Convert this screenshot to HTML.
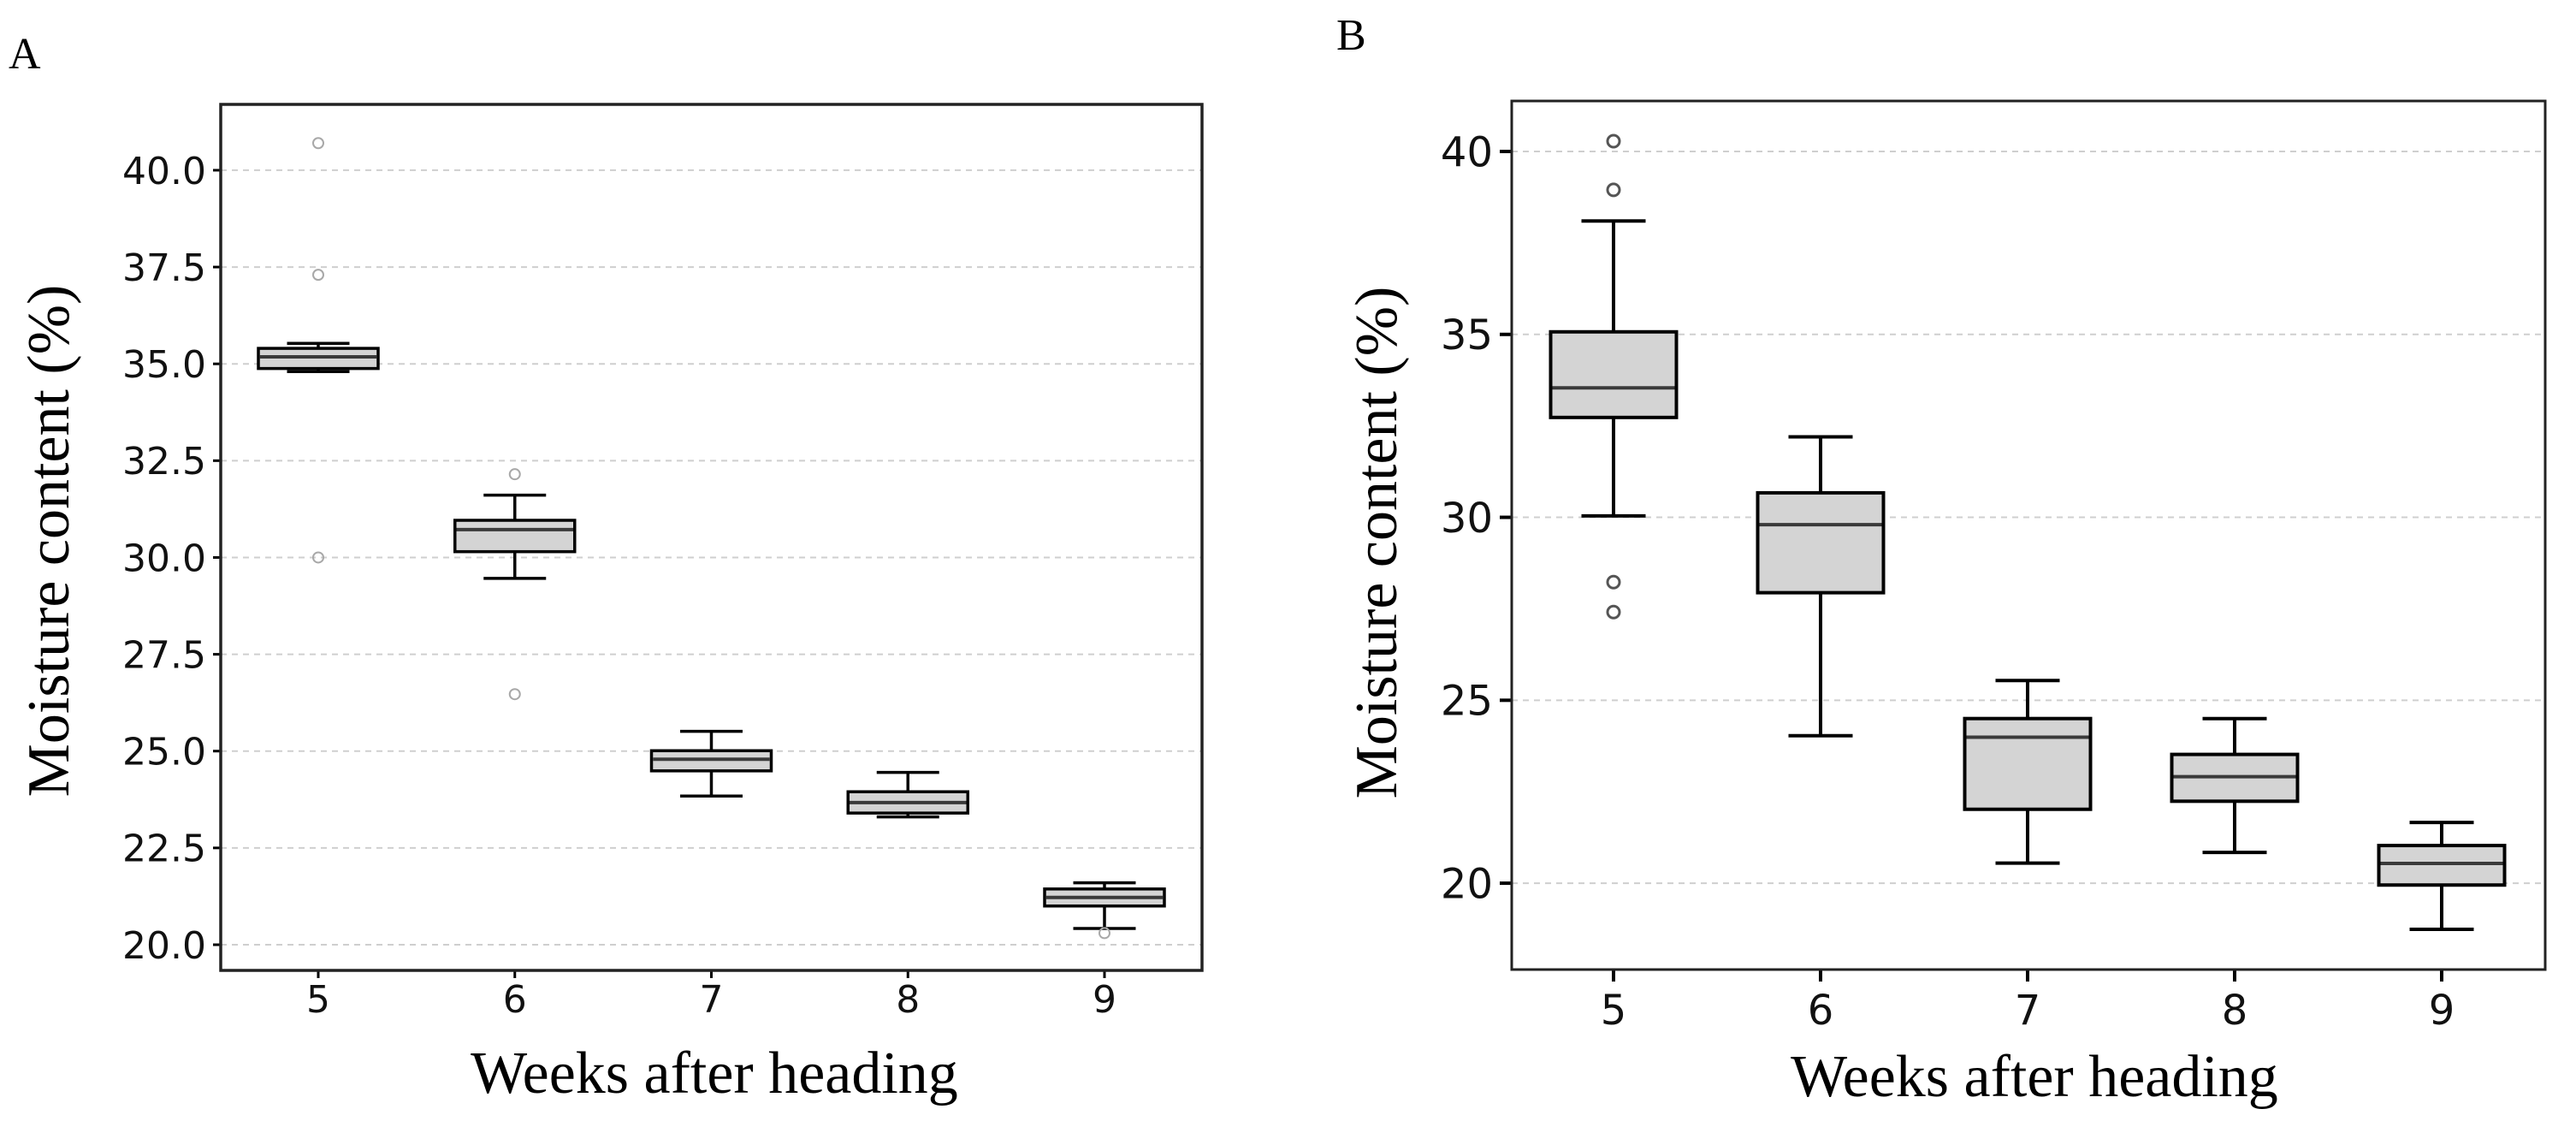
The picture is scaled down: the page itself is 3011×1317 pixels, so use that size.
<!DOCTYPE html>
<html><head><meta charset="utf-8">
<style>
html,body{margin:0;padding:0;background:#fff;}
svg{display:block;}
</style></head>
<body>
<svg id="chart" width="3011" height="1317" viewBox="0 0 3011 1317" xmlns="http://www.w3.org/2000/svg">
  <rect x="0" y="0" width="3011" height="1317" fill="#fff"/>
  <g id="panelA"></g>
  <g id="panelB"></g>
</svg>
<script>
// ---- shared categories ----
const categories = [5, 6, 7, 8, 9];

// ---- Panel A data ----
const aWhiskerLow  = [34.80, 29.46, 23.84, 23.30, 20.42];
const aQ1          = [34.88, 30.15, 24.49, 23.40, 21.00];
const aMedian      = [35.18, 30.72, 24.79, 23.67, 21.22];
const aQ3          = [35.40, 30.96, 25.01, 23.95, 21.44];
const aWhiskerHigh = [35.53, 31.61, 25.51, 24.45, 21.60];
const aOutliers    = [[40.7, 37.3, 30.0], [32.15, 26.47], [], [], [20.3]];
const aTicks       = [20.0, 22.5, 25.0, 27.5, 30.0, 32.5, 35.0, 37.5, 40.0];
const aTickLabels  = ["20.0", "22.5", "25.0", "27.5", "30.0", "32.5", "35.0", "37.5", "40.0"];

// ---- Panel B data ----
const bWhiskerLow  = [30.04, 24.03, 20.55, 20.84, 18.74];
const bQ1          = [32.73, 27.94, 22.02, 22.24, 19.95];
const bMedian      = [33.54, 29.80, 23.99, 22.91, 20.54];
const bQ3          = [35.07, 30.67, 24.50, 23.52, 21.03];
const bWhiskerHigh = [38.10, 32.20, 25.54, 24.50, 21.66];
const bOutliers    = [[40.28, 38.95, 28.23, 27.41], [], [], [], []];
const bTicks       = [20, 25, 30, 35, 40];
const bTickLabels  = ["20", "25", "30", "35", "40"];

const NS = "http://www.w3.org/2000/svg";
function mk(parent, tag, attrs) {
  const el = document.createElementNS(NS, tag);
  for (const k in attrs) el.setAttribute(k, attrs[k]);
  parent.appendChild(el);
  return el;
}

function drawPanel(g, cfg, d) {
  const yScale = v => cfg.top + (cfg.yMax - v) / (cfg.yMax - cfg.yMin) * (cfg.bottom - cfg.top);
  const xScale = i => cfg.x0 + i * cfg.dx;

  d.ticks.forEach((t, i) => {
    const y = yScale(t);
    const gl = mk(g, "line", {x1: cfg.left, x2: cfg.right, y1: y, y2: y, stroke: "#cfcfcf", "stroke-width": 2, "stroke-dasharray": "7,6"});
    
    
    const tk = mk(g, "line", {x1: cfg.left - cfg.tickLen, x2: cfg.left, y1: y, y2: y, stroke: "#000", "stroke-width": cfg.tickW});
    
    
    const tl = mk(g, "text", {x: cfg.left - cfg.tickLen - 8, y: y + cfg.tickFont * 0.36, "text-anchor": "end", "font-family": "DejaVu Sans, Liberation Sans, sans-serif", "font-size": cfg.tickFont, fill: "#111"});
    tl.textContent = d.tickLabels[i];
    
    
  });

  categories.forEach((c, i) => {
    const x = xScale(i);
    const hw = cfg.boxW / 2, cw = cfg.capW / 2;
    const grp = mk(g, "g", {});
    
    
    const sw = cfg.lineW;
    mk(grp, "line", {x1: x, x2: x, y1: yScale(d.wh[i]), y2: yScale(d.q3[i]), stroke: "#000", "stroke-width": sw});
    mk(grp, "line", {x1: x, x2: x, y1: yScale(d.q1[i]), y2: yScale(d.wl[i]), stroke: "#000", "stroke-width": sw});
    mk(grp, "line", {x1: x - cw, x2: x + cw, y1: yScale(d.wh[i]), y2: yScale(d.wh[i]), stroke: "#000", "stroke-width": sw});
    mk(grp, "line", {x1: x - cw, x2: x + cw, y1: yScale(d.wl[i]), y2: yScale(d.wl[i]), stroke: "#000", "stroke-width": sw});
    const yt = yScale(d.q3[i]), yb = yScale(d.q1[i]);
    mk(grp, "rect", {x: x - hw, y: yt, width: cfg.boxW, height: Math.max(yb - yt, 1), fill: "#d4d4d4", stroke: "#000", "stroke-width": sw});
    mk(grp, "line", {x1: x - hw + sw / 2, x2: x + hw - sw / 2, y1: yScale(d.med[i]), y2: yScale(d.med[i]), stroke: "#3a3a3a", "stroke-width": cfg.medW});
    d.out[i].forEach(v => {
      const o = mk(g, "circle", {cx: x, cy: yScale(v), r: cfg.outR, fill: "none", stroke: cfg.outColor, "stroke-width": cfg.outW});
      
      
    });
    const xt = mk(g, "line", {x1: x, x2: x, y1: cfg.bottom, y2: cfg.bottom + cfg.tickLen, stroke: "#000", "stroke-width": cfg.tickW});
    
    
    const xl = mk(g, "text", {x: x, y: cfg.xLabelY, "text-anchor": "middle", "font-family": "DejaVu Sans, Liberation Sans, sans-serif", "font-size": cfg.tickFont, fill: "#111"});
    xl.textContent = String(c);
    
    
  });

  const fr = mk(g, "rect", {x: cfg.left, y: cfg.top, width: cfg.right - cfg.left, height: cfg.bottom - cfg.top, fill: "none", stroke: "#222", "stroke-width": cfg.frameW});
  
  

  const xt = mk(g, "text", {x: cfg.xTitleX, y: cfg.xTitleY, "text-anchor": "middle", "font-family": "Liberation Serif, serif", "font-size": 70, fill: "#000"});
  xt.textContent = "Weeks after heading";
  
  
  const yt = mk(g, "text", {x: 0, y: 0, "text-anchor": "middle", "font-family": "Liberation Serif, serif", "font-size": 70, fill: "#000", transform: "translate(" + cfg.yTitleX + "," + cfg.yTitleY + ") rotate(-90)"});
  yt.textContent = "Moisture content (%)";
  
  
  const pl = mk(g, "text", {x: cfg.labelX, y: cfg.labelY, "font-family": "Liberation Serif, serif", "font-size": 52, fill: "#000"});
  pl.textContent = cfg.label;
  
  
}

drawPanel(document.getElementById("panelA"), {
  left: 258, right: 1405, top: 122, bottom: 1134,
  yMin: 19.337, yMax: 41.70, x0: 372, dx: 229.75,
  boxW: 140, capW: 73, lineW: 3.5, medW: 4, frameW: 3.5,
  tickLen: 9, tickW: 3, tickFont: 44, xLabelY: 1183,
  outR: 6, outColor: "#a8a8a8", outW: 2,
  xTitleX: 835, xTitleY: 1277, yTitleX: 80, yTitleY: 632,
  label: "A", labelX: 10, labelY: 80
}, {wl: aWhiskerLow, q1: aQ1, med: aMedian, q3: aQ3, wh: aWhiskerHigh, out: aOutliers, ticks: aTicks, tickLabels: aTickLabels});

drawPanel(document.getElementById("panelB"), {
  left: 1767, right: 2975, top: 118, bottom: 1133,
  yMin: 17.64, yMax: 41.38, x0: 1886, dx: 242,
  boxW: 147, capW: 75, lineW: 4, medW: 4, frameW: 3,
  tickLen: 14, tickW: 4, tickFont: 48, xLabelY: 1197,
  outR: 7, outColor: "#555", outW: 3,
  xTitleX: 2378, xTitleY: 1281, yTitleX: 1632, yTitleY: 634,
  label: "B", labelX: 1562, labelY: 58
}, {wl: bWhiskerLow, q1: bQ1, med: bMedian, q3: bQ3, wh: bWhiskerHigh, out: bOutliers, ticks: bTicks, tickLabels: bTickLabels});
</script>
</body></html>
